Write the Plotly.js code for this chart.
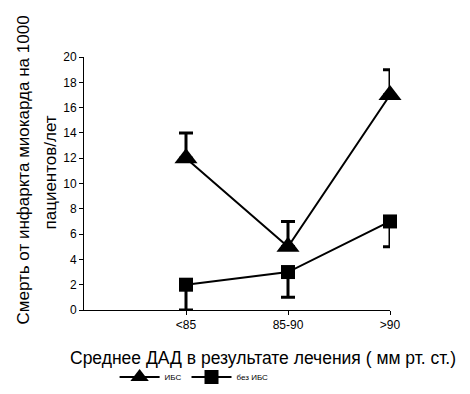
<!DOCTYPE html>
<html>
<head>
<meta charset="utf-8">
<script src="https://cdn.plot.ly/plotly-3.0.1.min.js"></script>
<style>html,body{margin:0;padding:0;background:#fff;}#chart{width:470px;height:394px;}</style>
</head>
<body>
<div id="chart"></div>
<script>
const categories = ['<85', '85-90', '>90'];
const seriesNames = ['ИБС', 'без ИБС'];
const ibsValues = [12, 5, 17];
const ibsErrPlus = [2, 2, 2];
const ibsErrMinus = [0, 0, 0];
const noIbsValues = [2, 3, 7];
const noIbsErrPlus = [0, 0, 0];
const noIbsErrMinus = [2, 2, 2];
const yTickVals = [0, 2, 4, 6, 8, 10, 12, 14, 16, 18, 20];
const yTitleLine1 = 'Смерть от инфаркта миокарда на 1000';
const yTitleLine2 = 'пациентов/лет';
const xTitle = 'Среднее ДАД в результате лечения ( мм рт. ст.)';

const font = 'Liberation Sans, Arial, sans-serif';

const traces = [
  {
    x: categories, y: ibsValues, name: seriesNames[0], type: 'scatter', mode: 'lines+markers',
    cliponaxis: false,
    line: {color: '#000', width: 2},
    marker: {symbol: 'triangle-up', size: 20, color: '#000'},
    error_y: {type: 'data', symmetric: false, array: ibsErrPlus, arrayminus: ibsErrMinus, color: '#000', thickness: 3, width: 7}
  },
  {
    x: categories, y: noIbsValues, name: seriesNames[1], type: 'scatter', mode: 'lines+markers',
    cliponaxis: false,
    line: {color: '#000', width: 2},
    marker: {symbol: 'square', size: 14, color: '#000'},
    error_y: {type: 'data', symmetric: false, array: noIbsErrPlus, arrayminus: noIbsErrMinus, color: '#000', thickness: 3, width: 7}
  }
];

const layout = {
  width: 470, height: 394,
  margin: {l: 84, r: 80, t: 57, b: 84},
  paper_bgcolor: '#fff', plot_bgcolor: '#fff',
  font: {family: font, color: '#000', size: 12},
  showlegend: true,
  legend: {orientation: 'h', x: 0.1, y: 0.043, xref: 'paper', yref: 'container', xanchor: 'left', yanchor: 'middle',
    font: {size: 8, family: font}, itemwidth: 40, tracegroupgap: 0, bgcolor: 'rgba(0,0,0,0)'},
  xaxis: {
    type: 'category', range: [-1, 2], tickvals: categories, ticktext: categories,
    showline: true, linecolor: '#000', linewidth: 1, showgrid: false, zeroline: false,
    ticks: 'outside', ticklen: 4, tickcolor: '#000', tickfont: {size: 12}
  },
  yaxis: {
    range: [0, 20], tickvals: yTickVals, showline: true, linecolor: '#000', linewidth: 1,
    showgrid: false, zeroline: false, ticks: 'outside', ticklen: 4, tickcolor: '#000',
    tickfont: {size: 12}
  },
  annotations: [
    {text: xTitle, xref: 'paper', yref: 'paper', x: 0.585, y: -0.19, xanchor: 'center', yanchor: 'middle',
     showarrow: false, font: {size: 17.5, family: font}},
    {text: yTitleLine1, xref: 'paper', yref: 'paper', x: -0.2, xshift: -84 + 23 + 0.2 * 306, y: 0.5, yshift: 13,
     xanchor: 'center', yanchor: 'middle', textangle: -90, showarrow: false, font: {size: 17, family: font}},
    {text: yTitleLine2, xref: 'paper', yref: 'paper', x: -0.2, xshift: -84 + 50 + 0.2 * 306, y: 0.5, yshift: 11,
     xanchor: 'center', yanchor: 'middle', textangle: -90, showarrow: false, font: {size: 17, family: font}}
  ]
};

Plotly.newPlot('chart', traces, layout, {displayModeBar: false, staticPlot: true});
</script>
</body>
</html>
